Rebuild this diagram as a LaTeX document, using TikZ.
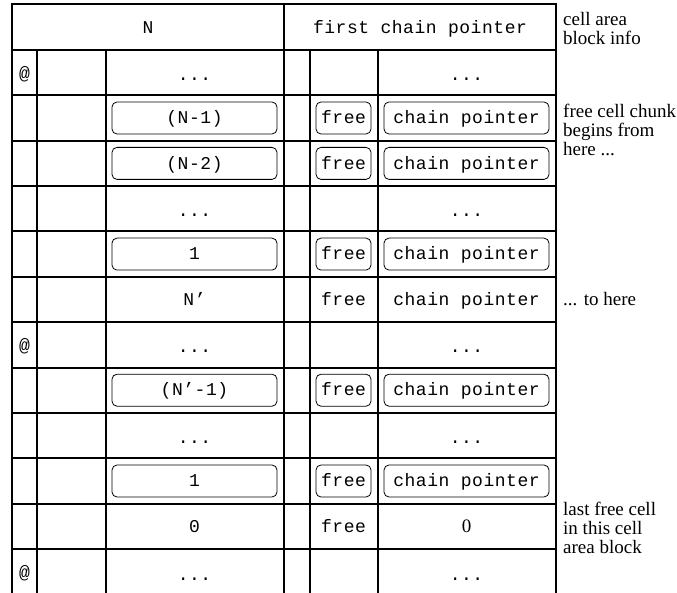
\documentclass[tikz,border=0pt]{standalone}
\usepackage{fontspec}
\setmainfont{Liberation Serif}
\newfontfamily\monofam[LetterSpace=3]{Liberation Mono}
\begin{document}
\begin{tikzpicture}[x=1pt,y=-1pt,
  grid/.style={line width=2pt,line cap=rect},
  mt/.style={font=\monofam\fontsize{18}{18}\selectfont,text height=11.5pt,text depth=0pt,inner sep=0pt},
  dots/.style={mt,yshift=-2pt},
  rbox/.style={mt,draw,line width=0.8pt,rounded corners=5pt,minimum height=32pt},
  wbox/.style={rbox,minimum width=165pt},
  fbox/.style={rbox,minimum width=55pt},
  note/.style={font=\fontsize{19}{19}\selectfont,align=left,inner sep=0pt}
]
\useasboundingbox (0,0) rectangle (677,593);
% grid
\def\xa{12}\def\xb{37}\def\xc{105.5}\def\xd{284}\def\xe{309.5}\def\xf{378}\def\xg{555.5}
\draw[grid] (\xa,593) -- (\xa,4) -- (\xg,4) -- (\xg,593);
\draw[grid] (\xd,4) -- (\xd,593);
\foreach \x in {\xb,\xc,\xe,\xf} \draw[grid] (\x,50) -- (\x,593);
\foreach \i in {0,...,11} \draw[grid] (\xa,{50+45.364*\i}) -- (\xg,{50+45.364*\i});
% header
\node[mt] (hN) at (148,28) {N};
\node[mt] (hF) at (420,28) {first chain pointer};
% column centres
\def\ca{24.5}\def\cc{194.5}\def\ce{343.5}\def\cf{466.5}
% row 0
\node[mt] (at0) at (\ca,73.5) {@};
\node[dots] (d0a) at (\cc,72.7) {...};
\node[dots] (d0b) at (\cf,72.7) {...};
% row 1
\node[wbox] (n1) at (\cc,118.0) {(N-1)};
\node[fbox] (f1) at (\ce,118.0) {free};
\node[wbox] (p1) at (\cf,118.0) {chain pointer};
% row 2
\node[wbox] (n2) at (\cc,163.4) {(N-2)};
\node[fbox] (f2) at (\ce,163.4) {free};
\node[wbox] (p2) at (\cf,163.4) {chain pointer};
% row 3
\node[dots] (d3a) at (\cc,208.8) {...};
\node[dots] (d3b) at (\cf,208.8) {...};
% row 4
\node[wbox] (n4) at (\cc,254.1) {1};
\node[fbox] (f4) at (\ce,254.1) {free};
\node[wbox] (p4) at (\cf,254.1) {chain pointer};
% row 5
\node[mt] (n5) at (\cc,299.5) {N’};
\node[mt] (f5) at (\ce,299.5) {free};
\node[mt] (p5) at (\cf,299.5) {chain pointer};
% row 6
\node[mt] (at6) at (\ca,345.5) {@};
\node[dots] (d6a) at (\cc,344.9) {...};
\node[dots] (d6b) at (\cf,344.9) {...};
% row 7
\node[wbox] (n7) at (\cc,390.2) {(N’-1)};
\node[fbox] (f7) at (\ce,390.2) {free};
\node[wbox] (p7) at (\cf,390.2) {chain pointer};
% row 8
\node[dots] (d8a) at (\cc,435.6) {...};
\node[dots] (d8b) at (\cf,435.6) {...};
% row 9
\node[wbox] (n9) at (\cc,481.0) {1};
\node[fbox] (f9) at (\ce,481.0) {free};
\node[wbox] (p9) at (\cf,481.0) {chain pointer};
% row 10
\node[mt] (n10) at (\cc,526.3) {0};
\node[mt] (f10) at (\ce,526.3) {free};
\node[font=\fontsize{19}{19}\selectfont,inner sep=0pt,anchor=base] (p10) at (\cf,532.5) {0};
% row 11
\node[mt] (at11) at (\ca,573) {@};
\node[dots] (d11a) at (\cc,573) {...};
\node[dots] (d11b) at (\cf,573) {...};
% notes
\node[note,anchor=north west] (t1) at (563,12) {cell area\\block info};
\node[note,anchor=north west] (t2) at (563,103.5) {free cell chunk\\begins from\\here ...};
\node[note,anchor=base west] (t3) at (563,306) {... to here};
\node[note,anchor=north west] (t4) at (563,501.5) {last free cell\\in this cell\\area block};
\end{tikzpicture}
\end{document}
